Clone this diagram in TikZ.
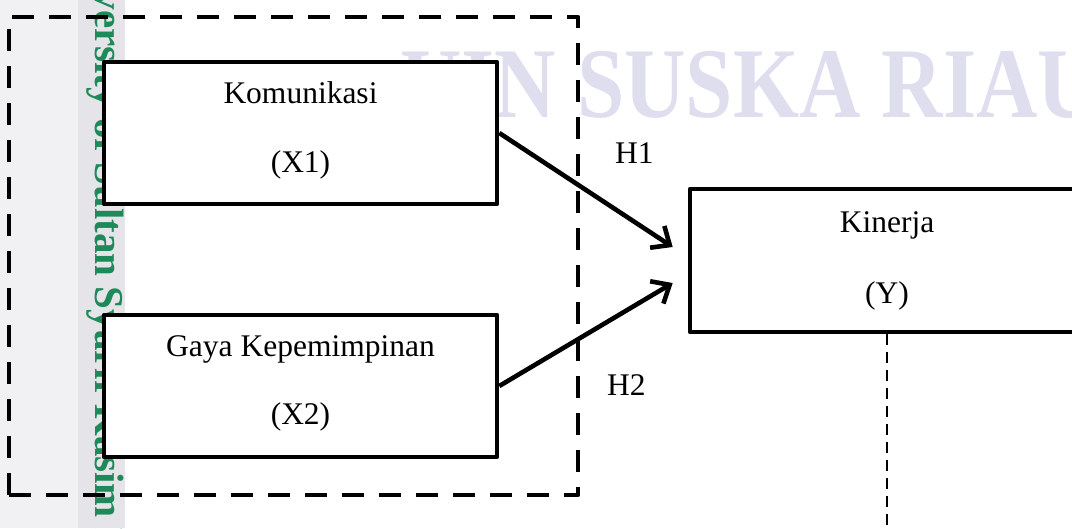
\documentclass[tikz,border=0pt]{standalone}
\usepackage{fontspec}
\setmainfont{Liberation Serif}
\usetikzlibrary{arrows.meta,calc}
\definecolor{wmark}{HTML}{DEDEEF}
\definecolor{lgrey}{HTML}{F1F1F3}
\definecolor{dgrey}{HTML}{E5E5E9}
\definecolor{wgreen}{HTML}{1E8A5A}
\begin{document}
\begin{tikzpicture}[x=1pt,y=-1pt,
  box/.style={draw=black, line width=4.6pt, fill=white, minimum width=393pt, minimum height=142pt, inner sep=0pt, line join=round},
  lbl/.style={font=\fontsize{31.5}{36}\selectfont, anchor=base, inner sep=0pt},
  arr/.style={line width=4.6pt, -{Straight Barb[length=15pt,width=26pt]}},
  grpbox/.style={draw=black, line width=4.6pt, dash pattern=on 22pt off 15pt, line join=round, minimum width=569pt, minimum height=478pt, inner sep=0pt},
  thindash/.style={line width=1.4pt, dash pattern=on 11pt off 7pt},
]
\useasboundingbox (0,0) rectangle (1072,528);
\clip (0,0) rectangle (1072,528);
% background watermark
\fill[lgrey] (0,0) rectangle (78,528);
\fill[dgrey] (78,0) rectangle (125,528);
\begin{scope}
\clip (78,0) rectangle (125,528);
\node[rotate=-90, anchor=base west, inner sep=0pt, text=wgreen, font=\bfseries\fontsize{41}{41}\selectfont] (vwm) at (95,-22) {iversity of Sultan Syarif Kasim R};
\end{scope}
\node[anchor=base west, inner sep=0pt, text=wmark, font=\bfseries\fontsize{100}{100}\selectfont] (wm) at (400,117) {\scalebox{0.85}[1]{UIN SUSKA RIAU}};
% group box
\node[grpbox] (grp) at (293.5,256) {};
% boxes
\node[box] (x1) at (300.5,133) {};
\node[box] (x2) at (300.5,386) {};
\node[box, minimum width=394pt, minimum height=143pt] (y) at (887,260.5) {};
% labels
\node[lbl] (x1a) at (300.5,103) {Komunikasi};
\node[lbl] (x1b) at (300.5,172) {(X1)};
\node[lbl] (x2a) at (300.5,356) {Gaya Kepemimpinan};
\node[lbl] (x2b) at (300.5,424) {(X2)};
\node[lbl] (ya) at (887,232) {Kinerja};
\node[lbl] (yb) at (887,303) {(Y)};
\node[lbl, anchor=base west] (h1) at (615,163) {H1};
\node[lbl, anchor=base west] (h2) at (607,395) {H2};
% connectors
\draw[arr] (x1.east) -- ($(y.west)+(-15,-13.5)$);
\draw[arr] (x2.east) -- ($(y.west)+(-15,22.5)$);
\coordinate (yend) at (887,530);
\draw[thindash] (y.south) -- (yend);
\end{tikzpicture}
\end{document}
